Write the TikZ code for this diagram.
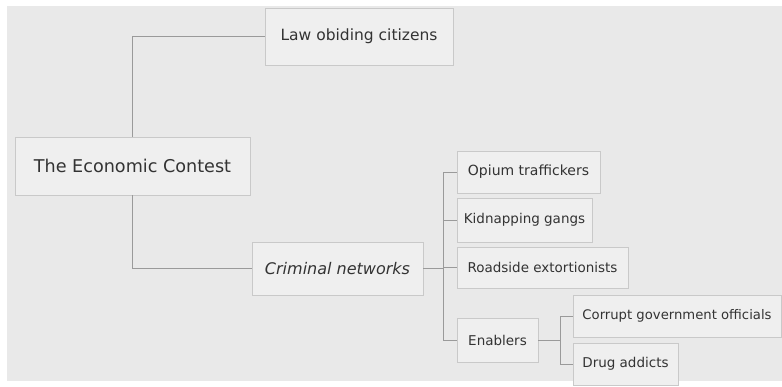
\documentclass[tikz,border=0pt]{standalone}
\usepackage{fontspec}
\setmainfont{DejaVu Sans}
\begin{document}
\begin{tikzpicture}[x=1pt,y=-1pt,
  box/.style={draw=boxline, fill=boxfill, line width=0.8pt, inner sep=0pt, text=txt, anchor=center},
  conn/.style={draw=linecol, line width=1pt}]
\definecolor{bg}{HTML}{E9E9E9}
\definecolor{boxfill}{HTML}{EFEFEF}
\definecolor{boxline}{HTML}{C9C9C9}
\definecolor{linecol}{HTML}{9A9A9A}
\definecolor{txt}{HTML}{333333}
\useasboundingbox (0,0) rectangle (782,386);
\fill[white] (0,0) rectangle (782,386);
\fill[bg] (7,6) rectangle (782,381);
\node[box, minimum width=235pt, minimum height=58pt, font=\fontsize{17.6}{20}\selectfont] (root) at (132.5,166) {The Economic Contest};
\node[box, minimum width=188pt, minimum height=57pt, font=\fontsize{15.5}{17}\selectfont] (law) at (359,36.5) {Law obiding citizens};
\node[box, minimum width=171pt, minimum height=53pt, font=\fontsize{16}{18}\selectfont\itshape] (crim) at (337.5,268.5) {Criminal networks};
\node[box, minimum width=143pt, minimum height=42pt, font=\fontsize{14}{16}\selectfont] (opium) at (528.5,172) {Opium traffickers};
\node[box, minimum width=135pt, minimum height=44pt, font=\fontsize{13.5}{16}\selectfont] (kid) at (524.5,220) {Kidnapping gangs};
\node[box, minimum width=171pt, minimum height=41pt, font=\fontsize{13.5}{16}\selectfont] (road) at (542.5,267.5) {Roadside extortionists};
\node[box, minimum width=81pt, minimum height=44pt, font=\fontsize{13.5}{16}\selectfont] (enab) at (497.5,340) {Enablers};
\node[box, minimum width=208pt, minimum height=42pt, font=\fontsize{13.2}{16}\selectfont] (corr) at (677,316) {Corrupt government officials};
\node[box, minimum width=105pt, minimum height=42pt, font=\fontsize{13.5}{16}\selectfont] (drug) at (625.5,364) {Drug addicts};
% connectors
\draw[conn] (root.north) |- (law.west);
\draw[conn] (root.south) |- (crim.west);
\draw[conn] (crim.east) -- ++(20,0) coordinate (b1);
\draw[conn] (b1 |- opium.west) -- (b1 |- enab.west);
\draw[conn] (b1 |- opium.west) -- (opium.west);
\draw[conn] (b1 |- kid.west) -- (kid.west);
\draw[conn] (b1 |- road.west) -- (road.west);
\draw[conn] (b1 |- enab.west) -- (enab.west);
\draw[conn] (enab.east) -- ++(22,0) coordinate (b2);
\draw[conn] (b2 |- corr.west) -- (b2 |- drug.west);
\draw[conn] (b2 |- corr.west) -- (corr.west);
\draw[conn] (b2 |- drug.west) -- (drug.west);
\end{tikzpicture}
\end{document}
